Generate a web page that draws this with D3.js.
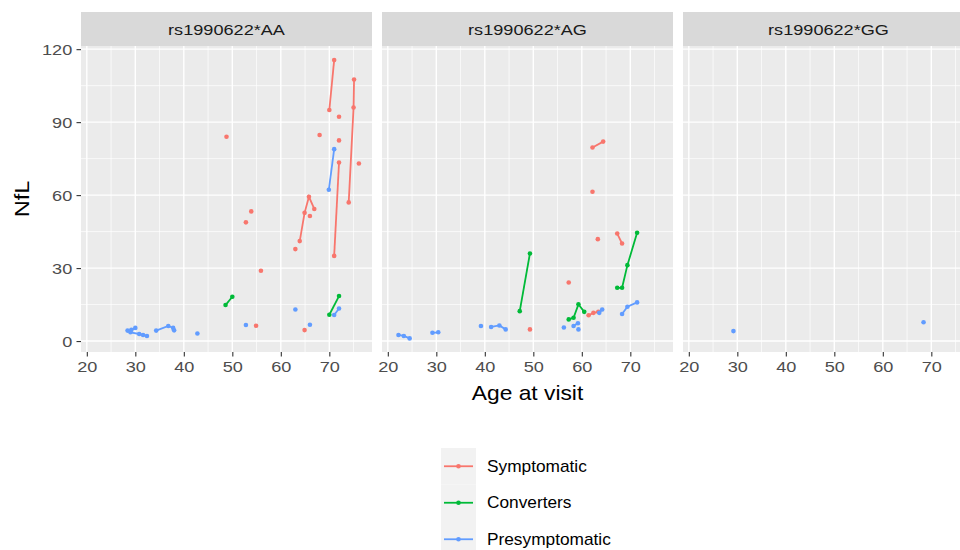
<!DOCTYPE html>
<html>
<head>
<meta charset="utf-8">
<script src="https://cdn.jsdelivr.net/npm/d3@7"></script>
<style>
  body { margin: 0; background: #fff; }
  text { font-family: "Liberation Sans", Arial, sans-serif; }
</style>
</head>
<body>
<div id="chart-area"></div>
<script>
// panels (genotype) and groups
var panels = ["rs1990622*AA", "rs1990622*AG", "rs1990622*GG"];
var groups = ["Symptomatic", "Converters", "Presymptomatic"];
var groupColors = ["#F8766D", "#00BA38", "#619CFF"];
var xTicks = [20, 30, 40, 50, 60, 70];
var yTicks = [0, 30, 60, 90, 120];

// each row: [group index, ages of visits, NfL at visits]
var visitsAA = [
    [0, [48.8], [84]],
    [0, [70.0, 71.0], [95, 115.5]],
    [0, [72.0], [92.2]],
    [0, [68.0], [84.7]],
    [0, [72.0], [82.5]],
    [0, [74.0, 75.0, 75.1], [57, 96, 107.5]],
    [0, [71.0, 72.0], [35, 73.4]],
    [0, [76.1], [73]],
    [0, [53.9], [53.3]],
    [0, [52.8], [48.8]],
    [0, [55.9], [28.9]],
    [0, [54.9], [6.3]],
    [0, [63.9, 64.9, 65.8, 66.9], [41.1, 52.7, 59.3, 54.3]],
    [0, [63.0], [37.8]],
    [0, [66.0], [51.4]],
    [0, [64.9], [4.5]],
    [1, [48.6, 50.0], [14.8, 18.2]],
    [1, [70.0, 72.0], [10.8, 18.5]],
    [2, [28.4, 29.2, 30.0], [4.3, 4.6, 5.4]],
    [2, [29.0, 30.8, 31.6, 32.4], [3.6, 2.9, 2.5, 2.1]],
    [2, [34.3, 36.8, 37.8, 38.0], [4.3, 6.2, 5.4, 4.4]],
    [2, [42.8], [3.1]],
    [2, [52.8], [6.6]],
    [2, [63.0], [13]],
    [2, [66.0], [6.7]],
    [2, [69.9, 71.0], [62.2, 78.9]],
    [2, [71.0, 72.0], [10.7, 13.4]]
];

var visitsAG = [
    [0, [62.2, 64.4], [79.6, 82]],
    [0, [62.2], [61.4]],
    [0, [63.3], [41.9]],
    [0, [67.3, 68.3], [44.2, 40.1]],
    [0, [57.3], [24.1]],
    [0, [49.3], [4.8]],
    [0, [61.4, 62.4, 63.4], [10.6, 11.6, 12]],
    [1, [47.2, 49.3], [12.3, 36]],
    [1, [57.3, 58.3, 59.3, 60.5], [8.9, 9.6, 15.1, 12]],
    [1, [67.3, 68.3, 69.4, 71.4], [21.9, 21.9, 31.2, 44.5]],
    [2, [22.2, 23.3, 24.5], [2.5, 2.1, 1.1]],
    [2, [29.2, 30.4], [3.4, 3.6]],
    [2, [39.2], [6.2]],
    [2, [41.3, 43.0, 44.3], [5.8, 6.4, 4.8]],
    [2, [56.3], [5.6]],
    [2, [58.3, 59.2], [6.2, 7.3]],
    [2, [59.3], [4.8]],
    [2, [63.6, 64.2], [11.6, 13.0]],
    [2, [68.3, 69.4, 71.4], [11.1, 14.1, 15.9]]
];

var visitsGG = [
    [2, [29.2], [4.1]],
    [2, [68.4], [7.7]]
];

var panelData = [visitsAA, visitsAG, visitsGG];

var width = 960, height = 550;
var panelLeft = [81, 382, 683], panelW = 291;
var plotTop = 46, plotBottom = 352, stripTop = 12;
var stretch = 1.17; // the source font runs wider than Arial

var svg = d3.select("#chart-area")
    .append("svg")
        .attr("width", width)
        .attr("height", height);

// Y Scale (shared)
var y = d3.scaleLinear()
    .domain([-4.5, 121.3])
    .range([plotBottom, plotTop]);

panels.forEach(function(name, i) {
    var x = d3.scaleLinear()
        .domain([18.8, 78.8])
        .range([panelLeft[i], panelLeft[i] + panelW]);

    var g = svg.append("g");

    // background
    g.append("rect")
        .attr("x", panelLeft[i]).attr("y", plotTop)
        .attr("width", panelW).attr("height", plotBottom - plotTop)
        .attr("fill", "#EBEBEB");

    // minor grid
    var xMinor = [25, 35, 45, 55, 65, 75];
    var yMinor = [15, 45, 75, 105];
    g.selectAll(".xminor").data(xMinor).enter().append("line")
        .attr("x1", d => x(d)).attr("x2", d => x(d))
        .attr("y1", plotTop).attr("y2", plotBottom)
        .attr("stroke", "#fff").attr("stroke-width", 0.7);
    g.selectAll(".yminor").data(yMinor).enter().append("line")
        .attr("x1", panelLeft[i]).attr("x2", panelLeft[i] + panelW)
        .attr("y1", d => y(d)).attr("y2", d => y(d))
        .attr("stroke", "#fff").attr("stroke-width", 0.7);
    // major grid
    g.selectAll(".xmajor").data(xTicks).enter().append("line")
        .attr("x1", d => x(d)).attr("x2", d => x(d))
        .attr("y1", plotTop).attr("y2", plotBottom)
        .attr("stroke", "#fff").attr("stroke-width", 1.4);
    g.selectAll(".ymajor").data(yTicks).enter().append("line")
        .attr("x1", panelLeft[i]).attr("x2", panelLeft[i] + panelW)
        .attr("y1", d => y(d)).attr("y2", d => y(d))
        .attr("stroke", "#fff").attr("stroke-width", 1.4);

    // strip
    g.append("rect")
        .attr("x", panelLeft[i]).attr("y", stripTop)
        .attr("width", panelW).attr("height", plotTop - stripTop)
        .attr("fill", "#D9D9D9");
    g.append("text")
        .attr("transform", "translate(" + (panelLeft[i] + panelW / 2) + "," + ((stripTop + plotTop) / 2 + 5.5) + ") scale(" + stretch + ",1)")
        .attr("text-anchor", "middle")
        .attr("font-size", "15.5px")
        .attr("fill", "#1A1A1A")
        .text(name);

    // X Axis
    var xAxisCall = d3.axisBottom(x)
        .tickValues(xTicks)
        .tickSize(4.5)
        .tickPadding(4.5);
    var xAxisGroup = g.append("g")
        .attr("transform", "translate(0," + plotBottom + ")")
        .call(xAxisCall);
    xAxisGroup.select(".domain").remove();
    xAxisGroup.selectAll(".tick line").attr("stroke", "#333").attr("stroke-width", 1.1);
    xAxisGroup.selectAll(".tick text")
        .attr("font-size", "15.5px")
        .attr("fill", "#4D4D4D")
        .attr("font-family", "Liberation Sans, Arial, sans-serif")
        .attr("transform", "scale(" + stretch + ",1)");

    // lines then points
    var line = d3.line()
        .x(d => x(d[0]))
        .y(d => y(d[1]));

    var subjects = panelData[i].map(function(r) {
        return { grp: r[0], pts: r[1].map((a, k) => [a, r[2][k]]) };
    });

    g.selectAll(".subj")
        .data(subjects.filter(s => s.pts.length > 1))
        .enter().append("path")
        .attr("d", s => line(s.pts))
        .attr("fill", "none")
        .attr("stroke", s => groupColors[s.grp])
        .attr("stroke-width", 1.8);

    var pts = [];
    subjects.forEach(s => s.pts.forEach(p => pts.push({ grp: s.grp, age: p[0], nfl: p[1] })));
    g.selectAll(".pt")
        .data(pts)
        .enter().append("circle")
        .attr("cx", d => x(d.age))
        .attr("cy", d => y(d.nfl))
        .attr("r", 2.3)
        .attr("fill", d => groupColors[d.grp]);
});

// Y Axis (left panel only)
var yAxisCall = d3.axisLeft(y)
    .tickValues(yTicks)
    .tickSize(4.5)
    .tickPadding(3);
var yAxisGroup = svg.append("g")
    .attr("transform", "translate(" + panelLeft[0] + ",0)")
    .call(yAxisCall);
yAxisGroup.select(".domain").remove();
yAxisGroup.selectAll(".tick line").attr("stroke", "#333").attr("stroke-width", 1.1);
yAxisGroup.selectAll(".tick text")
    .attr("font-size", "15.5px")
    .attr("fill", "#4D4D4D")
    .attr("font-family", "Liberation Sans, Arial, sans-serif")
    .attr("transform", "scale(" + stretch + ",1)");

// X Label
svg.append("text")
    .attr("transform", "translate(" + ((panelLeft[0] + panelLeft[2] + panelW) / 2) + ",400) scale(1.14,1)")
    .attr("font-size", "20px")
    .attr("text-anchor", "middle")
    .attr("fill", "#000")
    .text("Age at visit");

// Y Label
svg.append("text")
    .attr("transform", "translate(29," + ((plotTop + plotBottom) / 2) + ") rotate(-90) scale(1.18,1)")
    .attr("font-size", "20px")
    .attr("text-anchor", "middle")
    .attr("fill", "#000")
    .text("NfL");

// Legend
var keyH = 36.5, keyY0 = 448, keyX = 441, keyW = 35;
var legend = svg.append("g");
groups.forEach(function(name, k) {
    var yy = keyY0 + k * keyH;
    legend.append("rect")
        .attr("x", keyX).attr("y", yy)
        .attr("width", keyW).attr("height", keyH)
        .attr("fill", "#F2F2F2");
    legend.append("line")
        .attr("x1", keyX + 3).attr("x2", keyX + keyW - 3)
        .attr("y1", yy + keyH / 2).attr("y2", yy + keyH / 2)
        .attr("stroke", groupColors[k]).attr("stroke-width", 1.8);
    legend.append("circle")
        .attr("cx", keyX + keyW / 2).attr("cy", yy + keyH / 2)
        .attr("r", 2.3).attr("fill", groupColors[k]);
    legend.append("text")
        .attr("transform", "translate(487," + (yy + keyH / 2 + 5.5) + ") scale(1.08,1)")
        .attr("font-size", "16px")
        .attr("fill", "#000")
        .text(name);
});
</script>
</body>
</html>
